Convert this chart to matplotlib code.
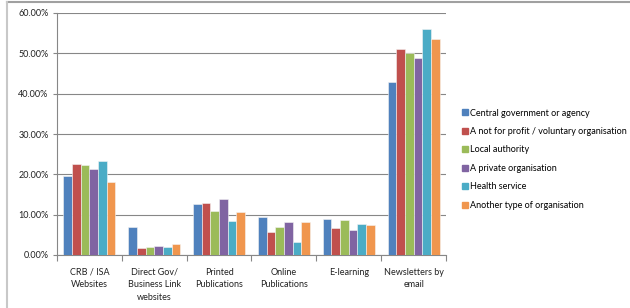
import numpy as np
import matplotlib
matplotlib.use("Agg")
import matplotlib.pyplot as plt
from matplotlib.ticker import FuncFormatter
from matplotlib.lines import Line2D

categories = ["CRB / ISA\nWebsites", "Direct Gov/\nBusiness Link\nwebsites", "Printed\nPublications",
              "Online\nPublications", "E-learning", "Newsletters by\nemail"]
series_names = ["Central government or agency", "A not for profit / voluntary organisation",
                "Local authority", "A private organisation", "Health service",
                "Another type of organisation"]
central = [19.6, 7.0, 12.6, 9.5, 9.0, 42.9]
not_for_profit = [22.5, 1.8, 13.0, 5.7, 6.6, 51.0]
local_auth = [22.2, 2.0, 10.9, 7.0, 8.6, 50.2]
private_org = [21.4, 2.2, 13.9, 8.2, 6.3, 48.8]
health = [23.4, 1.9, 8.5, 3.2, 7.7, 56.1]
another = [18.1, 2.7, 10.6, 8.2, 7.5, 53.6]
colors = ["#4F81BD", "#C0504D", "#9BBB59", "#8064A2", "#4BACC6", "#F0964E"]

plt.rcParams['font.family'] = ['Lato', 'DejaVu Sans']

fig = plt.figure(figsize=(6.3, 3.08), dpi=100)
ax = fig.add_axes([57/630, 1 - 255/308, (446 - 57)/630, (255 - 13)/308])

all_series = [central, not_for_profit, local_auth, private_org, health, another]
x = np.arange(len(categories))
bw = 0.134
for i, vals in enumerate(all_series):
    ax.bar(x + (i - 2.5) * bw, vals, bw, color=colors[i], edgecolor="#f4f4f4",
           linewidth=0.4, label=series_names[i], zorder=3)

ax.set_xlim(-0.5, len(categories) - 0.5)
ax.set_ylim(0, 60)
ax.set_yticks(np.arange(0, 61, 10))
ax.yaxis.set_major_formatter(FuncFormatter(lambda v, p: "%.2f%%" % v))
ax.grid(axis="y", color="#878787", linewidth=0.8, zorder=0)
ax.set_axisbelow(True)
for s in ["top", "right"]:
    ax.spines[s].set_visible(False)
ax.spines["left"].set_color("#878787")
ax.spines["bottom"].set_color("#878787")
ax.tick_params(axis="y", length=3, color="#878787", labelsize=6.5, pad=3, labelcolor="#222222")

ax.set_xticks(np.arange(-0.5, len(categories) + 0.5, 1))
ax.set_xticklabels([])
ax.tick_params(axis="x", length=4, color="#878787", direction="out")
for i, c in enumerate(categories):
    ax.text(i, -3.1, c, ha="center", va="top", fontsize=6.5, color="#222222",
            linespacing=1.5)

handles = [Line2D([], [], marker="s", linestyle="None", markersize=5, color=c) for c in colors]
fig.legend(handles, series_names, loc="upper left", bbox_to_anchor=(458/630, 1 - 104/308),
           frameon=False, fontsize=6.5, handlelength=0.6, handletextpad=0.2,
           labelspacing=1.05, borderpad=0)

fig.add_artist(Line2D([7/630, 1], [1 - 2/308, 1 - 2/308], color="#a0a0a0", linewidth=1.5))
fig.add_artist(Line2D([7/630, 7/630], [0, 1 - 2/308], color="#c8c8c8", linewidth=1.5))

fig.savefig("out.png", dpi=100)
